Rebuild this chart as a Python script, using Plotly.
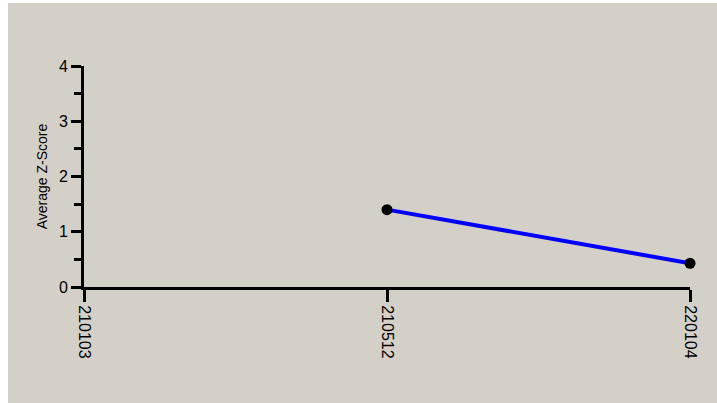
import plotly.graph_objects as go

categories = ["210103", "210512", "220104"]
values = [None, 1.4, 0.43]
y_ticks = [0, 1, 2, 3, 4]

BG = "#d4d0c8"
FONT = "Liberation Sans, Arial, sans-serif"

fig = go.Figure()
fig.add_trace(go.Scatter(
    x=categories, y=values, mode="lines+markers",
    line=dict(color="#0000ff", width=4),
    marker=dict(color="black", size=11),
    cliponaxis=False, connectgaps=False, showlegend=False,
))

W, H = 717, 403
L, R, T, B = 84, 27, 66, 116
pw, ph = W - L - R, H - T - B

def px(x):
    return (x - L) / pw

def py(y):
    return (H - B - y) / ph

fig.update_layout(
    width=W, height=H,
    margin=dict(l=L, r=R, t=T, b=B),
    paper_bgcolor=BG, plot_bgcolor=BG,
    font=dict(family=FONT, color="black"),
    shapes=[
        dict(type="rect", xref="paper", yref="paper", layer="below",
             x0=px(0), x1=px(8), y0=py(H), y1=py(0),
             fillcolor="white", line=dict(width=0)),
        dict(type="rect", xref="paper", yref="paper", layer="below",
             x0=px(0), x1=px(W), y0=py(3), y1=py(0),
             fillcolor="white", line=dict(width=0)),
    ],
    xaxis=dict(
        type="category", categoryorder="array", categoryarray=categories,
        range=[0, 2], showgrid=False, zeroline=False,
        showline=True, linecolor="black", linewidth=3,
        ticks="outside", ticklen=12, tickwidth=3, tickcolor="black",
        tickangle=90, tickfont=dict(size=16, family=FONT),
        fixedrange=True,
    ),
    yaxis=dict(
        range=[0, 4], tickvals=y_ticks, showgrid=False, zeroline=False,
        showline=True, linecolor="black", linewidth=3,
        ticks="outside", ticklen=10, tickwidth=3, tickcolor="black",
        tickfont=dict(size=16, family=FONT),
        minor=dict(dtick=0.5, ticks="outside", ticklen=7, tickwidth=3,
                   tickcolor="black", showgrid=False),
        title=dict(text="Average Z-Score", font=dict(size=14, family=FONT),
                   standoff=8),
        fixedrange=True,
    ),
)

fig.write_html(
    "out.html",
    config={"displayModeBar": False},
    post_script=(
        "document.body.style.margin='0';"
        "document.body.style.overflow='hidden';"
        "document.body.style.background='" + BG + "';"
        "document.documentElement.style.background='" + BG + "';"
    ),
)
